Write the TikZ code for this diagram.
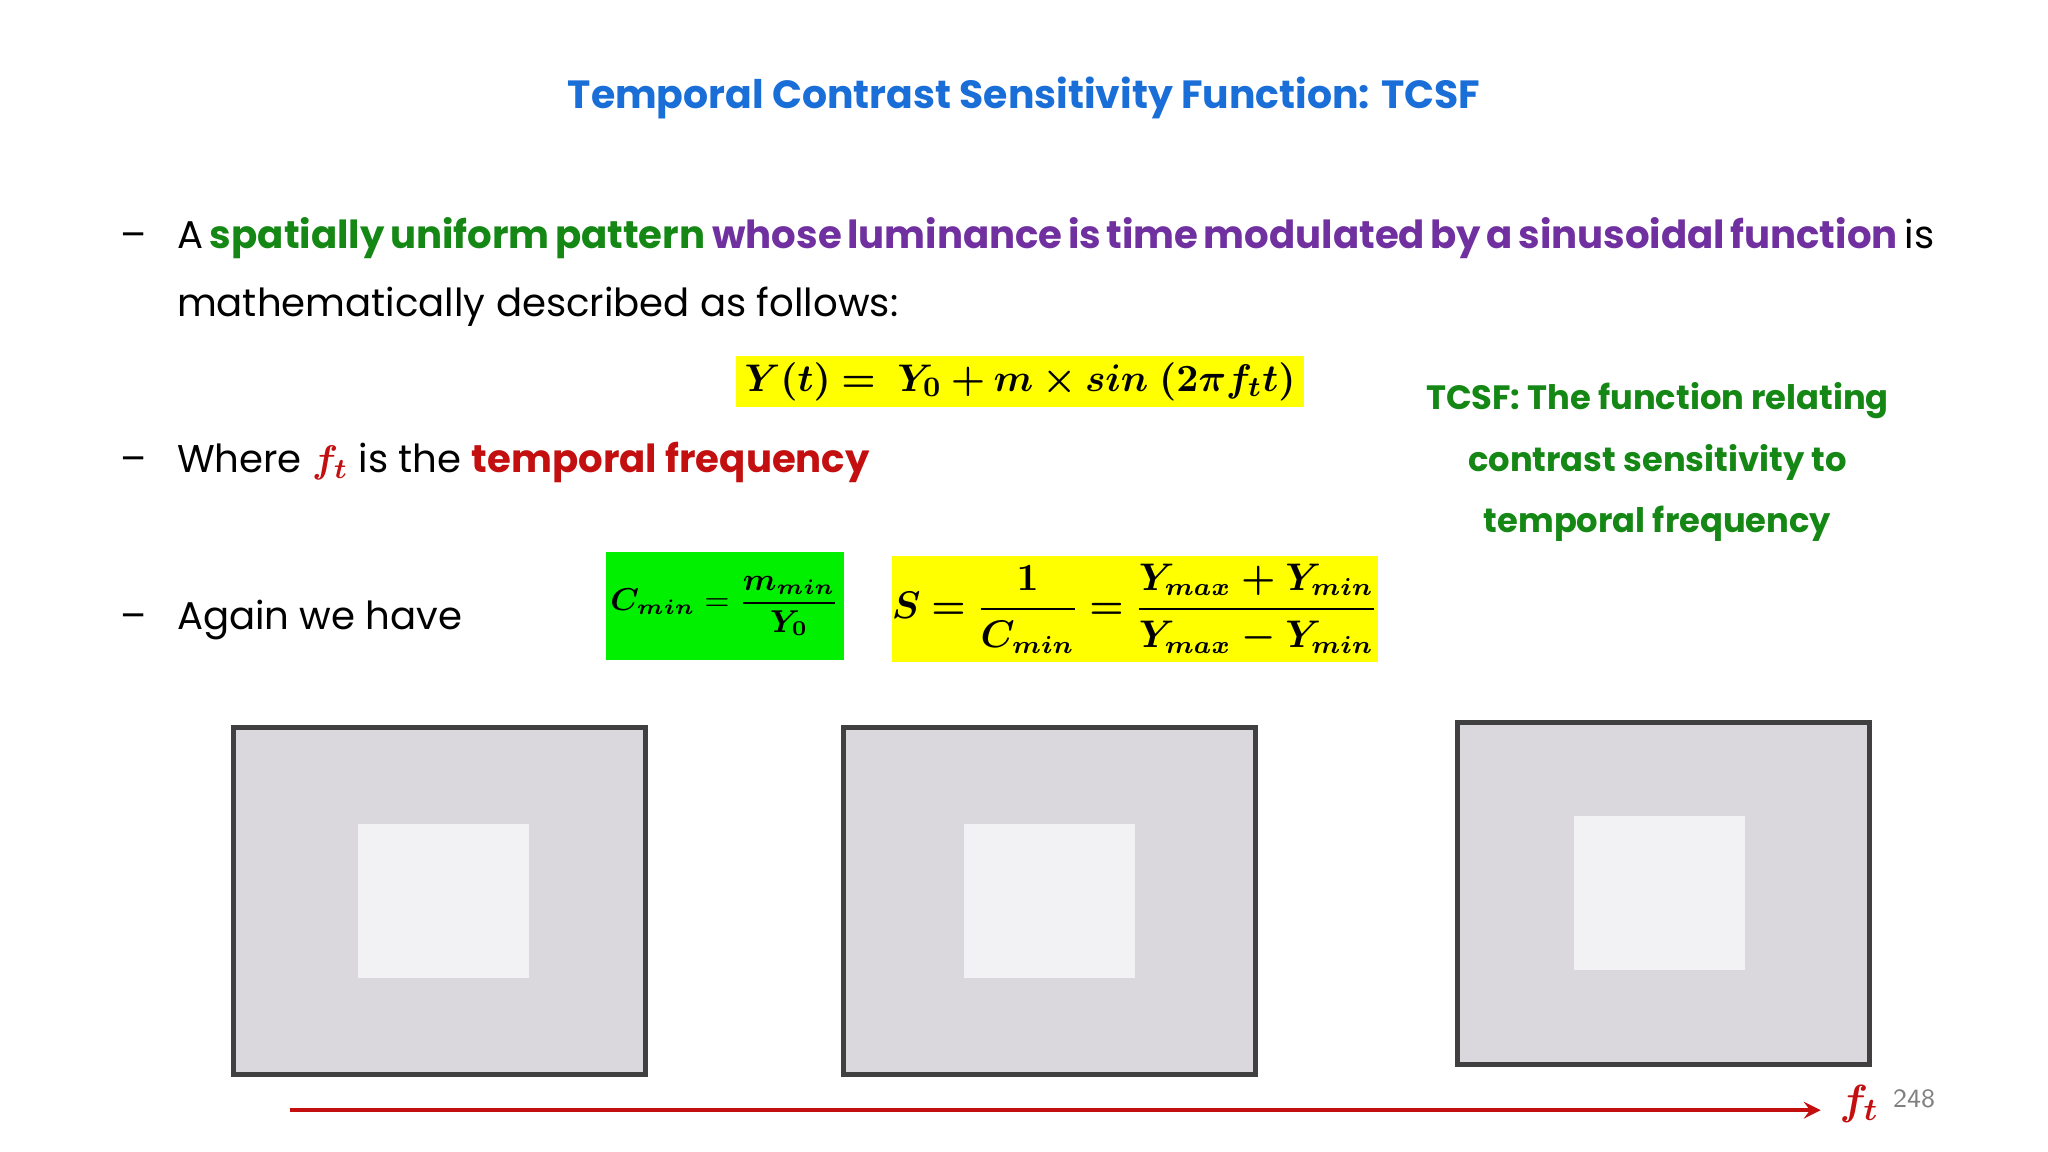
\documentclass[tikz,border=0pt]{standalone}
\usepackage{amsmath,bm}
\usepackage{fontspec}
\setmainfont{Poppins}
\definecolor{ttl}{RGB}{25,110,215}
\definecolor{gr}{RGB}{20,135,20}
\definecolor{pu}{RGB}{112,48,160}
\definecolor{rd}{RGB}{195,15,15}
\definecolor{ylw}{RGB}{255,255,0}
\definecolor{grn}{RGB}{0,240,0}
\definecolor{frm}{RGB}{218,216,220}
\definecolor{inn}{RGB}{242,241,243}
\definecolor{bd}{RGB}{64,64,64}
\begin{document}
\begin{tikzpicture}[x=0.013061cm,y=-0.013061cm,
 body/.style={anchor=base west,inner sep=0,font=\fontsize{11}{13}\selectfont},
 frame/.style={fill=frm,draw=bd,line width=1.4pt},
 inner/.style={fill=inn,draw=none}]
\useasboundingbox (0,0) rectangle (1568,882);
\node[font=\fontsize{11.2}{14}\selectfont\bfseries,text=ttl] (title) at (784,75) {Temporal Contrast Sensitivity Function: TCSF};
\node[body] (d1) at (92,190) {\textendash};
\node[body] (l1) at (135,190) {\makebox[17.54cm][s]{A \textcolor{gr}{\bfseries spatially uniform pattern} \textcolor{pu}{\bfseries whose luminance is time modulated by a sinusoidal function} is}};
\node[body] (l1b) at (135,242) {mathematically described as follows:};
\node[fill=ylw,minimum width=5.68cm,minimum height=0.51cm,inner sep=0,font=\fontsize{11.4}{14}\selectfont] (eq1) at (781,292) {$\bm{Y(t) =\ Y_0 + m\times sin\ (2\pi f_t t)}$};
\node[body] (d2) at (92,362) {\textendash};
\node[body] (l2) at (135,362) {Where $\bm{\textcolor{rd}{f_t}}$ is the \textcolor{rd}{\bfseries temporal frequency}};
\node[align=center,text=gr,font=\fontsize{9.6}{17.5}\selectfont\bfseries] (tcsf) at (1269,354) {TCSF: The function relating\\contrast sensitivity to\\temporal frequency};
\node[body] (d3) at (92,482) {\textendash};
\node[body] (l3) at (135,482) {Again we have};
\node[fill=grn,minimum width=2.377cm,minimum height=1.084cm,inner sep=0,font=\fontsize{9}{11}\selectfont] (cm) at (555,464) {$\bm{C_{min}} = \dfrac{\bm{m_{min}}}{\bm{Y_0}}$};
\node[fill=ylw,minimum width=4.741cm,minimum height=1.058cm,inner sep=0,font=\fontsize{10.6}{13}\selectfont] (s) at (869,466) {$\bm{S = \dfrac{1}{C_{min}} = \dfrac{Y_{max}+Y_{min}}{Y_{max}-Y_{min}}}$};
\draw[frame] (179,557) rectangle (494,823);
\fill[inner] (274,631) rectangle (405,749);
\draw[frame] (646,557) rectangle (961,823);
\fill[inner] (738,631) rectangle (869,749);
\draw[frame] (1116,553) rectangle (1431,815);
\fill[inner] (1205,625) rectangle (1336,743);
\coordinate (a0) at (222,850);
\coordinate (a1) at (1394,850);
\node[text=rd,font=\fontsize{13}{15}\selectfont,anchor=west,inner sep=0] (ft) at (1408,845) {$\bm{f_t}$};
\draw[rd,line width=1.1pt,-stealth] (a0) -- (a1);
\node[text=gray,font=\fontsize{7.5}{9}\selectfont\sffamily,anchor=west] (pg) at (1440,841) {248};
\end{tikzpicture}
\end{document}
